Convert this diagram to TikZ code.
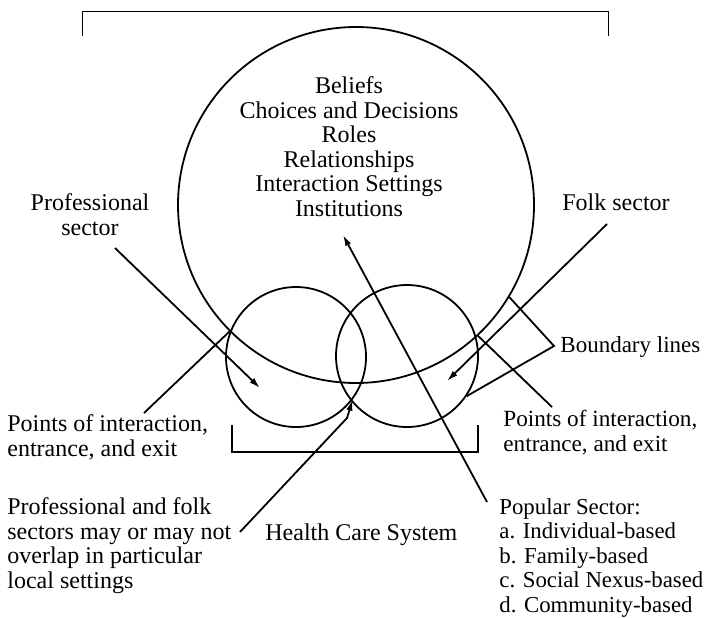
\documentclass[tikz,border=0pt]{standalone}
\usepackage{fontspec}
\setmainfont{Liberation Serif}
\usetikzlibrary{arrows.meta,positioning}

\begin{document}
\begin{tikzpicture}[
  x=0.5pt,y=-0.5pt,
  ring/.style={circle,draw,line width=0.9pt,inner sep=0pt},
  txt/.style={inner sep=0pt,align=left,anchor=base west,
              font=\fontsize{12}{12.25}\selectfont},
  ctr/.style={inner sep=0pt,align=center,anchor=base,
              font=\fontsize{12}{12.25}\selectfont},
  ptr/.style={line width=0.9pt,-{Latex[length=5.5pt,width=3.2pt]}},
  lnk/.style={line width=0.9pt}
]
\useasboundingbox (0,0) rectangle (704,617);

% ---- Circles ------------------------------------------------
\node[ring,minimum size=178pt] (big)  at (356,205) {};
\node[ring,minimum size=70pt]  (prof) at (296,357) {};
\node[ring,minimum size=71pt]  (folk) at (407,356) {};

% ---- Brackets -----------------------------------------------
\draw[line width=0.5pt] (82,36) -- (82,11) -- (608,11) -- (608,36);
\draw[lnk] (232,425) -- (232,452) -- (478,452) -- (478,425);

% ---- Labels (anchored at last baseline) ---------------------
\node[ctr] (list) at (349,216)
  {Beliefs\\Choices and Decisions\\Roles\\Relationships\\
   Interaction Settings\\Institutions};
\node[ctr] (proflbl) at (90,235) {Professional\\sector};
\node[ctr] (folklbl) at (616,210) {Folk sector};
\node[txt,font=\fontsize{11.5}{12.25}\selectfont] (bound) at (560,352)
  {Boundary lines};
\node[txt] (ptsL)    at (7,456)   {Points of interaction,\\entrance, and exit};
\node[txt,font=\fontsize{11.6}{12.25}\selectfont] (ptsR) at (503,451)
  {Points of interaction,\\entrance, and exit};
\node[txt] (overlap) at (7,588)
  {Professional and folk\\sectors may or may not\\overlap in particular\\local settings};
\node[txt] (hcs)     at (265,540) {Health Care System};
\node[txt,font=\fontsize{11.4}{12.25}\selectfont] (pop) at (499,612)
  {Popular Sector:\\a. Individual-based\\b. Family-based\\
   c. Social Nexus-based\\d. Community-based};

% ---- Connector ends -----------------------------------------
\coordinate (profTail) at (115,248);
\coordinate (profTip)  at (260,388);
\coordinate (folkTail) at (607,224);
\coordinate (folkTip)  at (447,381);
\coordinate (popTail)  at (487,502);
\coordinate (popTip)   at (343,235);
\coordinate (ptsLTail) at (144,413);
\coordinate (ptsRTail) at (552,407);
\coordinate (ovTail)   at (240,532);
\coordinate (ovBend)   at (347,418);
\coordinate (bndV)     at (554,346);

% ---- Connectors ---------------------------------------------
\draw[ptr] (profTail) -- (profTip);
\draw[ptr] (folkTail) -- (folkTip);
\draw[ptr] (popTail) -- (popTip);
\draw[ptr] (ovTail) -- (ovBend) -- (prof.-37);
\draw[lnk] (ptsLTail) -- (big.225.5);
\draw[lnk] (ptsRTail) -- (big.-47);
\draw[lnk] (big.-31.5) -- (bndV) -- (folk.-34);

\end{tikzpicture}
\end{document}
